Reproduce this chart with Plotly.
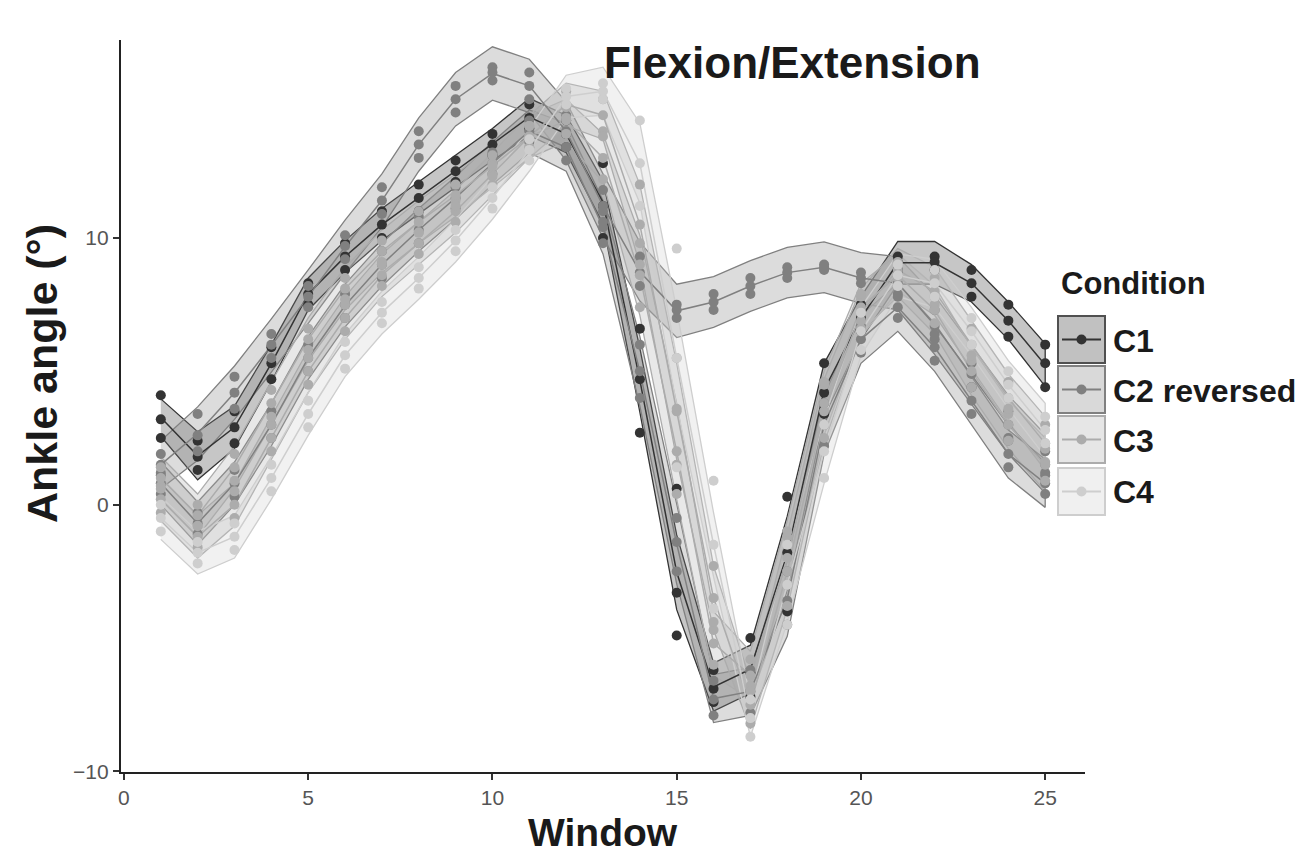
import plotly.graph_objects as go

# ---------------- data ----------------
windows = list(range(1, 26))
conditions = ["C1", "C2 reversed", "C3", "C4"]
x_ticks = [0, 5, 10, 15, 20, 25]
y_ticks = [-10, 0, 10]

# series 1 (C1)
s1_hi = [4.1, 2.4, 3.5, 5.9, 8.3, 9.8, 11.0, 12.0, 12.9, 13.9, 15.0, 14.4, 12.8, 6.6, 0.6, -6.2, -5.0, 0.3, 5.3, 7.5, 9.3, 9.3, 8.8, 7.5, 6.0]
s1_mid = [3.2, 1.8, 2.9, 5.3, 7.9, 9.3, 10.5, 11.5, 12.5, 13.5, 14.5, 13.9, 11.2, 4.7, -3.3, -6.9, -6.3, -1.8, 4.2, 7.0, 9.1, 9.1, 8.3, 6.9, 5.3]
s1_lo = [2.5, 1.3, 2.3, 4.7, 7.5, 8.8, 10.0, 11.0, 12.1, 13.1, 14.1, 13.4, 10.0, 2.7, -4.9, -7.4, -7.2, -4.0, 3.4, 6.5, 8.8, 8.8, 7.8, 6.3, 4.4]
s1_hw = [0.7, 0.9, 0.8, 0.7, 0.6, 0.6, 0.6, 0.6, 0.6, 0.6, 0.7, 0.7, 0.8, 1.2, 1.4, 0.9, 0.9, 1.4, 1.0, 0.8, 0.8, 0.8, 0.7, 0.7, 0.8]

# series 2 (C2 reversed)
s2_hi = [1.9, 3.4, 4.8, 6.4, 8.2, 10.1, 11.9, 14.0, 15.7, 16.4, 16.2, 14.6, 11.8, 9.3, 7.5, 7.9, 8.5, 8.9, 9.0, 8.7, 8.7, 7.3, 5.3, 3.5, 2.0]
s2_mid = [1.5, 2.6, 4.2, 6.0, 7.8, 9.7, 11.4, 13.5, 15.2, 16.2, 15.7, 14.0, 11.2, 8.7, 7.3, 7.6, 8.2, 8.7, 8.9, 8.5, 8.3, 6.7, 4.9, 3.0, 1.5]
s2_lo = [1.1, 2.0, 3.6, 5.5, 7.4, 9.2, 10.9, 13.0, 14.7, 15.9, 15.2, 13.4, 10.6, 8.2, 7.0, 7.3, 7.9, 8.5, 8.8, 8.3, 7.9, 6.2, 4.4, 2.5, 1.1]
s2_hw = [0.9, 1.0, 1.0, 1.0, 1.0, 1.0, 1.0, 1.0, 1.0, 1.0, 1.0, 1.1, 1.2, 1.1, 1.0, 0.95, 0.95, 0.95, 0.95, 0.95, 1.0, 1.1, 1.1, 1.1, 1.1]

# series 3 (C2 reversed)
s3_hi = [1.2, -0.3, 1.3, 3.5, 6.0, 7.9, 9.5, 10.8, 11.9, 13.2, 14.4, 13.9, 11.0, 6.0, -0.5, -6.6, -6.2, -2.5, 3.8, 6.7, 7.8, 6.4, 4.4, 2.4, 1.2]
s3_mid = [0.8, -0.7, 0.8, 3.0, 5.5, 7.5, 9.0, 10.3, 11.5, 12.8, 14.0, 13.4, 10.4, 5.0, -1.4, -7.3, -7.0, -3.6, 3.0, 6.2, 7.4, 5.9, 3.9, 1.9, 0.8]
s3_lo = [0.4, -1.1, 0.3, 2.5, 5.0, 7.0, 8.5, 9.8, 11.1, 12.4, 13.6, 12.9, 9.8, 4.0, -2.5, -7.9, -7.8, -4.5, 2.2, 5.7, 7.0, 5.4, 3.4, 1.4, 0.4]
s3_hw = [0.8, 0.8, 0.8, 0.8, 0.8, 0.8, 0.8, 0.8, 0.8, 0.8, 0.8, 0.9, 1.0, 1.3, 1.5, 0.9, 0.9, 1.4, 1.1, 0.9, 0.9, 0.9, 0.9, 0.9, 0.9]

# series 4 (C3)
s4_hi = [0.7, -0.8, 0.5, 3.0, 5.5, 7.5, 9.0, 10.2, 11.4, 12.8, 14.2, 15.5, 15.2, 12.0, 5.5, -2.3, -6.8, -1.2, 4.5, 7.8, 9.1, 8.5, 6.6, 4.6, 3.0]
s4_mid = [0.2, -1.2, 0.0, 2.5, 5.0, 7.0, 8.6, 9.8, 11.0, 12.4, 13.8, 15.0, 14.6, 10.5, 3.5, -3.5, -7.5, -2.5, 3.5, 7.2, 8.8, 8.0, 6.0, 4.0, 2.3]
s4_lo = [-0.3, -1.6, -0.5, 2.0, 4.5, 6.5, 8.2, 9.4, 10.6, 12.0, 13.4, 14.5, 14.0, 9.0, 1.5, -4.7, -8.2, -3.8, 2.5, 6.6, 8.5, 7.5, 5.4, 3.4, 1.6]
s4_hw = [0.8, 0.8, 0.8, 0.8, 0.8, 0.8, 0.8, 0.8, 0.8, 0.8, 0.8, 0.8, 0.9, 1.5, 1.8, 1.2, 0.9, 1.4, 1.2, 0.9, 0.8, 0.9, 0.9, 0.9, 1.0]

# series 5 (C4)
s5_hi = [0.0, -1.4, -0.7, 1.5, 3.9, 6.1, 7.6, 8.9, 10.3, 11.9, 13.7, 15.6, 15.8, 14.4, 9.6, 0.9, -7.3, -1.5, 3.0, 7.2, 9.0, 8.8, 7.0, 5.0, 3.3]
s5_mid = [-0.5, -1.8, -1.2, 1.0, 3.4, 5.6, 7.2, 8.5, 9.9, 11.5, 13.3, 15.3, 15.5, 12.8, 5.5, -1.5, -8.0, -3.0, 2.0, 6.5, 8.6, 8.3, 6.5, 4.5, 2.8]
s5_lo = [-1.0, -2.2, -1.7, 0.5, 2.9, 5.1, 6.8, 8.1, 9.5, 11.1, 12.9, 15.0, 15.2, 11.2, 1.4, -3.9, -8.7, -4.5, 1.0, 5.8, 8.2, 7.8, 6.0, 4.0, 2.3]
s5_hw = [0.8, 0.8, 0.8, 0.8, 0.8, 0.8, 0.8, 0.8, 0.8, 0.8, 0.8, 0.8, 0.9, 1.5, 1.8, 1.2, 0.7, 1.4, 1.2, 0.9, 0.8, 0.9, 0.9, 0.9, 1.0]

# series 6 (C3)
s6_hi = [1.4, 0.0, 1.9, 4.3, 6.6, 8.5, 9.9, 11.0, 12.0, 13.1, 14.2, 14.9, 13.8, 9.8, 3.6, -4.4, -5.8, -1.0, 4.6, 7.9, 9.0, 7.8, 5.6, 3.6, 2.1]
s6_mid = [1.0, -0.4, 1.4, 3.8, 6.2, 8.1, 9.5, 10.6, 11.6, 12.7, 13.8, 14.4, 13.0, 8.6, 2.0, -5.2, -6.4, -2.0, 3.8, 7.4, 8.6, 7.3, 5.0, 3.0, 1.5]
s6_lo = [0.6, -0.8, 0.9, 3.3, 5.8, 7.7, 9.1, 10.2, 11.2, 12.3, 13.4, 13.9, 12.2, 7.4, 0.4, -6.0, -7.0, -3.0, 3.0, 6.9, 8.2, 6.8, 4.4, 2.4, 0.9]
s6_hw = [0.8, 0.8, 0.8, 0.8, 0.8, 0.8, 0.8, 0.8, 0.8, 0.8, 0.8, 0.8, 0.9, 1.5, 1.8, 1.2, 0.9, 1.4, 1.2, 0.9, 0.8, 0.9, 0.9, 0.9, 1.0]

series = [
    ("C1", s1_hi, s1_mid, s1_lo, s1_hw),
    ("C2 reversed", s2_hi, s2_mid, s2_lo, s2_hw),
    ("C2 reversed", s3_hi, s3_mid, s3_lo, s3_hw),
    ("C3", s4_hi, s4_mid, s4_lo, s4_hw),
    ("C3", s6_hi, s6_mid, s6_lo, s6_hw),
    ("C4", s5_hi, s5_mid, s5_lo, s5_hw),
]

# ---------------- style ----------------
cond_rgb = {"C1": (51, 51, 51), "C2 reversed": (128, 128, 128),
            "C3": (172, 172, 172), "C4": (206, 206, 206)}
FONT = "Liberation Sans, Arial, sans-serif"


def col(c, a=1.0):
    r, g, b = cond_rgb[c]
    return f"rgba({r},{g},{b},{a})"


fig = go.Figure()

# ribbons
for cond, hi, mid, lo, hw in series:
    mean = [(a + b + c) / 3 for a, b, c in zip(hi, mid, lo)]
    upper = [m + h for m, h in zip(mean, hw)]
    lower = [m - h for m, h in zip(mean, hw)]
    fig.add_trace(go.Scatter(
        x=windows + windows[::-1], y=upper + lower[::-1],
        mode="lines", fill="toself", fillcolor=col(cond, 0.28),
        line=dict(color=col(cond), width=1.3),
        hoverinfo="skip", showlegend=False))

# mean lines
for cond, hi, mid, lo, hw in series:
    mean = [(a + b + c) / 3 for a, b, c in zip(hi, mid, lo)]
    fig.add_trace(go.Scatter(
        x=windows, y=mean, mode="lines",
        line=dict(color=col(cond), width=1.5),
        hoverinfo="skip", showlegend=False))

# points
for cond, hi, mid, lo, hw in series:
    fig.add_trace(go.Scatter(
        x=windows * 3, y=hi + mid + lo, mode="markers",
        marker=dict(color=col(cond), size=10, line=dict(width=0)),
        name=cond, showlegend=False))

# ---------------- layout ----------------
# page pixel geometry (the page body adds an 8px offset)
OFF = 8
W, H = 1303 - OFF * 2, 861 - OFF
L, R, T, B = 121, 1085, 40, 772
PW, PH = R - L, B - T


def px(x):
    return (x - L) / PW


def py(y):
    return (B - y) / PH


shapes = []
annotations = []

# legend (drawn manually, ggplot style)
legend_rows = [(316, 363), (366, 413), (416, 463), (468, 515)]
box_l, box_r = 1058, 1105
for cond, (top, bot) in zip(conditions, legend_rows):
    border = "rgba(80,80,80,1)" if cond == "C1" else col(cond)
    shapes.append(dict(type="rect", xref="paper", yref="paper",
                       x0=px(box_l), x1=px(box_r), y0=py(bot), y1=py(top),
                       fillcolor=col(cond, 0.3),
                       line=dict(color=border, width=2)))
    cy = (top + bot) / 2
    shapes.append(dict(type="line", xref="paper", yref="paper",
                       x0=px(box_l + 4), x1=px(box_r - 4), y0=py(cy), y1=py(cy),
                       line=dict(color=col(cond), width=1.8)))
    r = 5
    shapes.append(dict(type="circle", xref="paper", yref="paper",
                       x0=px((box_l + box_r) / 2 - r), x1=px((box_l + box_r) / 2 + r),
                       y0=py(cy + r), y1=py(cy - r),
                       fillcolor=col(cond), line=dict(width=0)))
    annotations.append(dict(text=f"<b>{cond}</b>", xref="paper", yref="paper",
                            x=px(box_r + 6), y=py(cy + 1), xanchor="left", yanchor="middle",
                            showarrow=False, font=dict(family=FONT, size=32, color="#1a1a1a")))

annotations.append(dict(text="<b>Condition</b>", xref="paper", yref="paper",
                        x=px(1059), y=py(283), xanchor="left", yanchor="middle",
                        showarrow=False, font=dict(family=FONT, size=31, color="#1a1a1a")))

annotations.append(dict(text="<b>Flexion/Extension</b>", xref="paper", yref="paper",
                        x=px(792), y=py(63), xanchor="center", yanchor="middle",
                        showarrow=False, font=dict(family=FONT, size=44, color="#1a1a1a")))

annotations.append(dict(text="<b>Window</b>", xref="paper", yref="paper",
                        x=px(603), y=py(832), xanchor="center", yanchor="middle",
                        showarrow=False, font=dict(family=FONT, size=39, color="#1a1a1a")))

annotations.append(dict(text="<b>Ankle angle (°)</b>", xref="paper", yref="paper",
                        x=px(42), y=py(374), xanchor="center", yanchor="middle",
                        textangle=-90,
                        showarrow=False, font=dict(family=FONT, size=43, color="#1a1a1a")))

fig.update_layout(
    width=W, height=H,
    margin=dict(l=L - OFF, r=W - (R - OFF), t=T - OFF, b=H - (B - OFF), pad=0),
    paper_bgcolor="white", plot_bgcolor="white",
    showlegend=False,
    shapes=shapes, annotations=annotations,
    xaxis=dict(range=[-0.08, 26.08], tickvals=x_ticks, showgrid=False, zeroline=False,
               showline=True, linecolor="#222", linewidth=2.2,
               ticks="outside", ticklen=6, tickwidth=1.5, tickcolor="#333",
               tickfont=dict(family=FONT, size=21, color="#555")),
    yaxis=dict(range=[-10.02, 17.42], tickvals=y_ticks, showgrid=False, zeroline=False,
               showline=True, linecolor="#222", linewidth=2.2,
               ticks="outside", ticklen=6, tickwidth=1.5, tickcolor="#333",
               tickfont=dict(family=FONT, size=21, color="#555")),
)

fig.write_html("out.html")
